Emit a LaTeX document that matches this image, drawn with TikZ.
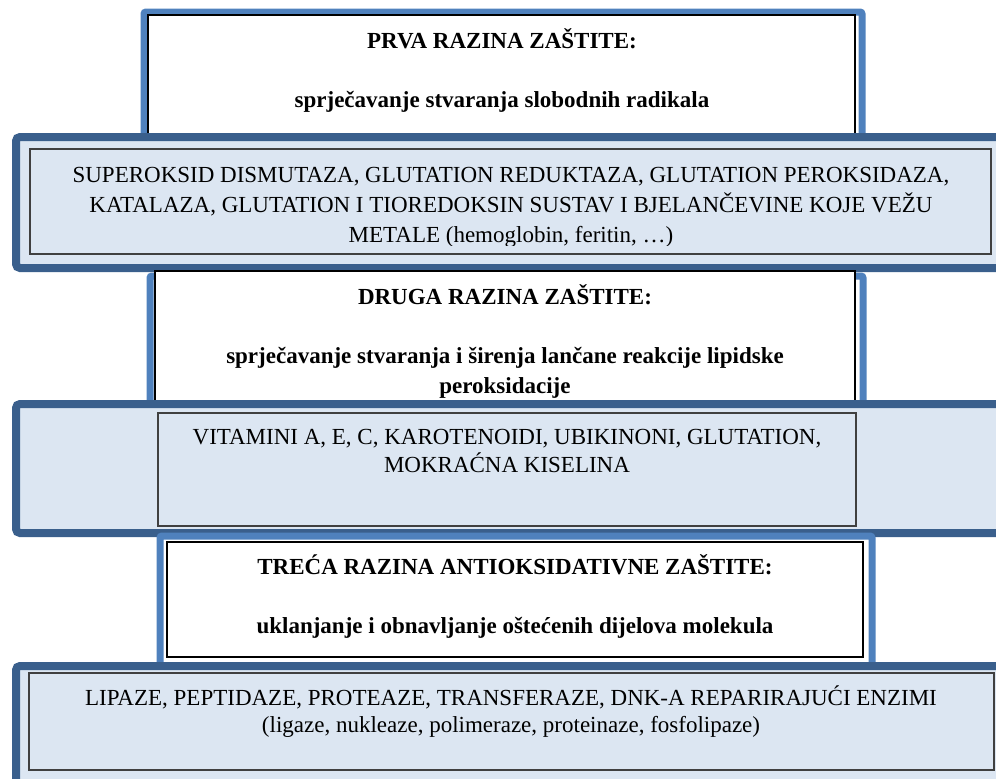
\documentclass[tikz,border=0pt]{standalone}
\usepackage{fontspec}
\setmainfont{Liberation Serif}
\usetikzlibrary{positioning}
\definecolor{hdrblue}{HTML}{4F81BD}
\definecolor{lvlblue}{HTML}{3A5F8C}
\definecolor{lvlfill}{HTML}{DCE6F2}
\definecolor{boxline}{HTML}{404040}

\begin{document}
\begin{tikzpicture}[x=0.5pt,y=-0.5pt,
    hdrframe/.style={draw=hdrblue, line width=3.5pt, rounded corners=1pt},
    whitebox/.style={draw=black, line width=0.6pt, fill=white},
    lvlframe/.style={draw=lvlblue, line width=4pt, fill=lvlfill, rounded corners=2pt},
    innerbox/.style={draw=boxline, line width=0.6pt, fill=lvlfill},
    hdrtext/.style={font=\fontsize{11.5}{14.75}\selectfont\bfseries, align=center, anchor=base, inner sep=0pt},
    lvltext/.style={font=\fontsize{11.5}{#1}\selectfont, align=center, anchor=base, inner sep=0pt},
    lvltext/.default=15pt]
    \clip (0,0) rectangle (996,778);

    % Prva razina (node base = last line)
    \draw[hdrframe] (144,12) rectangle (862,160);
    \draw[whitebox] (148,15) rectangle (855,134);
    \node[hdrtext] (prva) at (502,107) {PRVA RAZINA ZAŠTITE:\\[14.75pt] sprječavanje stvaranja slobodnih radikala};

    \draw[lvlframe] (16,137) rectangle (1010,268);
    \draw[innerbox] (30,149) rectangle (991,254);
    \begin{scope}
        \clip (30,149) rectangle (991,245);
        \node[lvltext] (enzimi) at (511,242) {SUPEROKSID DISMUTAZA, GLUTATION REDUKTAZA, GLUTATION PEROKSIDAZA,\\ KATALAZA, GLUTATION I TIOREDOKSIN SUSTAV I BJELANČEVINE KOJE VEŽU\\ METALE (hemoglobin, feritin, …)};
    \end{scope}

    % Druga razina
    \draw[hdrframe] (150,276) rectangle (863,420);
    \draw[whitebox] (155,271) rectangle (855,404);
    \node[hdrtext] (druga) at (505,393) {DRUGA RAZINA ZAŠTITE:\\[14.75pt] sprječavanje stvaranja i širenja lančane reakcije lipidske\\ peroksidacije};

    \draw[lvlframe] (16,404) rectangle (1010,533);
    \draw[innerbox] (158,413) rectangle (856,526);
    \node[lvltext=13.75pt] (vitamini) at (507,472) {VITAMINI A, E, C, KAROTENOIDI, UBIKINONI, GLUTATION,\\ MOKRAĆNA KISELINA};

    % Treca razina
    \draw[hdrframe] (160,536) rectangle (872,680);
    \draw[whitebox] (167,542) rectangle (863,657);
    \node[hdrtext] (treca) at (515,633) {TREĆA RAZINA ANTIOKSIDATIVNE ZAŠTITE:\\[14.75pt] uklanjanje i obnavljanje oštećenih dijelova molekula};

    \draw[lvlframe] (16,666) rectangle (1010,800);
    \draw[innerbox] (29,673) rectangle (994,770);
    \node[lvltext=13.5pt] (popravak) at (511,732) {LIPAZE, PEPTIDAZE, PROTEAZE, TRANSFERAZE, DNK-A REPARIRAJUĆI ENZIMI\\ (ligaze, nukleaze, polimeraze, proteinaze, fosfolipaze)};
\end{tikzpicture}
\end{document}
